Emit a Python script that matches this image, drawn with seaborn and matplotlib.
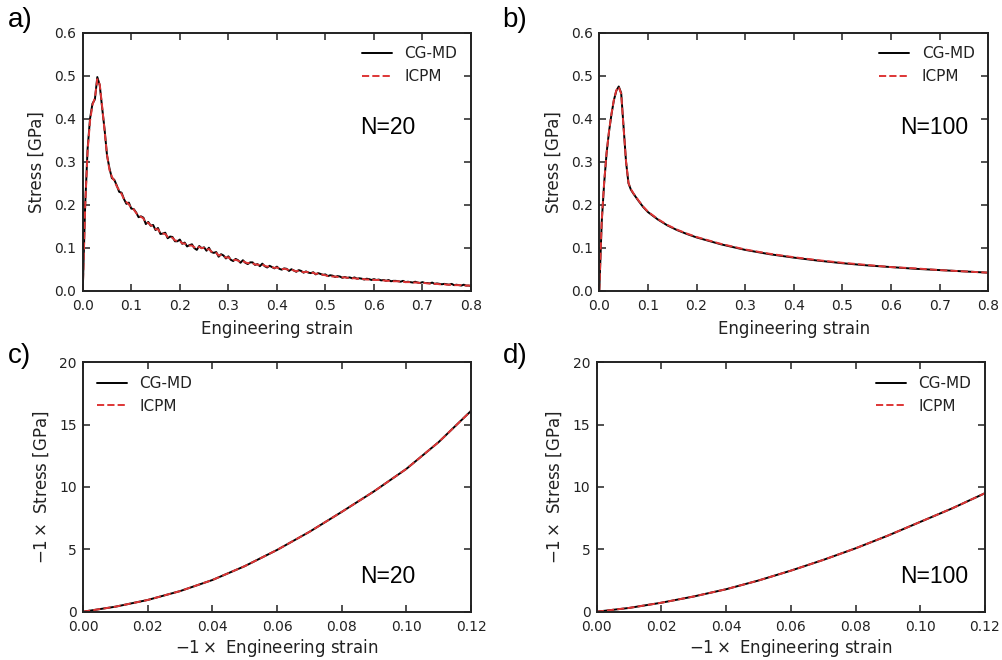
import numpy as np
import pandas as pd
import matplotlib
matplotlib.use("Agg")
import matplotlib.pyplot as plt
import seaborn as sns

# ---------------- data ----------------
# panel a (N=20, tension)
strain_a = np.linspace(0, 0.8, 161)
stress_a_md = [
    0.000, 0.200, 0.330, 0.400, 0.435, 0.445, 0.497, 0.478, 0.425, 0.375,
    0.315, 0.285, 0.262, 0.258, 0.245, 0.230, 0.228, 0.213, 0.202, 0.205,
    0.191, 0.190, 0.182, 0.171, 0.173, 0.170, 0.155, 0.160, 0.151, 0.153,
    0.141, 0.146, 0.132, 0.133, 0.135, 0.122, 0.126, 0.125, 0.115, 0.115,
    0.119, 0.109, 0.112, 0.103, 0.106, 0.108, 0.099, 0.095, 0.104, 0.099,
    0.101, 0.093, 0.100, 0.090, 0.088, 0.090, 0.079, 0.085, 0.082, 0.075,
    0.080, 0.072, 0.069, 0.074, 0.071, 0.065, 0.071, 0.065, 0.062, 0.066,
    0.066, 0.060, 0.062, 0.057, 0.063, 0.057, 0.054, 0.058, 0.055, 0.052,
    0.056, 0.051, 0.049, 0.052, 0.051, 0.046, 0.050, 0.047, 0.044, 0.048,
    0.046, 0.042, 0.045, 0.042, 0.041, 0.043, 0.038, 0.041, 0.039, 0.037,
    0.038, 0.034, 0.036, 0.035, 0.032, 0.034, 0.033, 0.030, 0.032, 0.030,
    0.031, 0.029, 0.031, 0.028, 0.029, 0.028, 0.026, 0.028, 0.027, 0.025,
    0.027, 0.025, 0.026, 0.024, 0.025, 0.023, 0.025, 0.022, 0.023, 0.023,
    0.022, 0.021, 0.023, 0.020, 0.021, 0.020, 0.019, 0.021, 0.019, 0.018,
    0.020, 0.018, 0.018, 0.017, 0.019, 0.016, 0.017, 0.016, 0.015, 0.016,
    0.015, 0.014, 0.016, 0.013, 0.014, 0.013, 0.012, 0.014, 0.012, 0.012,
    0.011,
]
stress_a_icpm = [
    0.000, 0.195, 0.325, 0.395, 0.432, 0.448, 0.492, 0.480, 0.428, 0.372,
    0.316, 0.281, 0.265, 0.256, 0.243, 0.234, 0.225, 0.213, 0.206, 0.201,
    0.192, 0.189, 0.181, 0.174, 0.172, 0.168, 0.158, 0.158, 0.152, 0.150,
    0.143, 0.143, 0.134, 0.133, 0.132, 0.125, 0.125, 0.123, 0.117, 0.116,
    0.116, 0.110, 0.110, 0.105, 0.105, 0.105, 0.101, 0.098, 0.102, 0.099,
    0.100, 0.095, 0.097, 0.091, 0.089, 0.088, 0.082, 0.083, 0.081, 0.077,
    0.078, 0.073, 0.071, 0.072, 0.070, 0.067, 0.069, 0.066, 0.064, 0.065,
    0.064, 0.061, 0.061, 0.059, 0.061, 0.058, 0.056, 0.057, 0.055, 0.053,
    0.054, 0.052, 0.050, 0.051, 0.050, 0.048, 0.049, 0.047, 0.045, 0.047,
    0.045, 0.043, 0.044, 0.043, 0.041, 0.042, 0.039, 0.040, 0.039, 0.037,
    0.036, 0.034, 0.034, 0.033, 0.033, 0.032, 0.032, 0.031, 0.031, 0.030,
    0.030, 0.029, 0.029, 0.028, 0.028, 0.027, 0.027, 0.026, 0.026, 0.026,
    0.025, 0.025, 0.025, 0.024, 0.024, 0.023, 0.023, 0.023, 0.022, 0.022,
    0.022, 0.021, 0.021, 0.020, 0.020, 0.020, 0.019, 0.019, 0.019, 0.018,
    0.018, 0.018, 0.017, 0.017, 0.016, 0.016, 0.016, 0.015, 0.015, 0.015,
    0.014, 0.014, 0.014, 0.013, 0.013, 0.013, 0.013, 0.012, 0.012, 0.012,
    0.012,
]

# panel b (N=100, tension)
strain_b = [0.0, 0.005, 0.01, 0.015, 0.02, 0.025, 0.03, 0.035, 0.04, 0.045,
            0.05, 0.055, 0.06, 0.065, 0.07, 0.08, 0.09, 0.10, 0.12, 0.14,
            0.16, 0.18, 0.20, 0.25, 0.30, 0.35, 0.40, 0.45, 0.50, 0.55,
            0.60, 0.65, 0.70, 0.75, 0.80]
stress_b_md = [0.000, 0.160, 0.250, 0.320, 0.370, 0.410, 0.443, 0.465, 0.475, 0.460,
               0.380, 0.300, 0.250, 0.235, 0.226, 0.210, 0.195, 0.183, 0.166, 0.152,
               0.141, 0.132, 0.124, 0.108, 0.095, 0.085, 0.077, 0.070, 0.064, 0.059,
               0.055, 0.051, 0.048, 0.045, 0.042]
stress_b_icpm = [0.000, 0.162, 0.252, 0.321, 0.371, 0.411, 0.444, 0.466, 0.474, 0.458,
                 0.378, 0.301, 0.251, 0.236, 0.227, 0.211, 0.196, 0.184, 0.167, 0.153,
                 0.142, 0.133, 0.125, 0.109, 0.096, 0.086, 0.078, 0.071, 0.065, 0.060,
                 0.055, 0.052, 0.048, 0.045, 0.042]

# panels c, d (compression)
strain_cd = [0.00, 0.01, 0.02, 0.03, 0.04, 0.05, 0.06, 0.07, 0.08, 0.09, 0.10, 0.11, 0.12]
stress_c = [0.0, 0.40, 0.94, 1.65, 2.54, 3.65, 4.95, 6.40, 8.00, 9.65, 11.45, 13.6, 16.1]
stress_d = [0.0, 0.30, 0.72, 1.22, 1.80, 2.50, 3.29, 4.15, 5.08, 6.10, 7.20, 8.30, 9.50]

series_names = ["CG-MD", "ICPM"]
panel_letters = ["a)", "b)", "c)", "d)"]
n_labels = ["N=20", "N=100", "N=20", "N=100"]

# ---------------- style ----------------
sns.set_style("ticks")
plt.rcParams["font.family"] = ["DejaVu Sans"]
plt.rcParams["mathtext.fontset"] = "dejavusans"
plt.rcParams["axes.linewidth"] = 1.4
plt.rcParams["axes.edgecolor"] = "#222222"
plt.rcParams["text.color"] = "#222222"
plt.rcParams["axes.labelcolor"] = "#222222"

black = "#000000"
red = "#de3535"

fig = plt.figure(figsize=(10.03, 6.60), dpi=100)
pos = [
    [0.0825, 0.5595, 0.3871, 0.3909],
    [0.5975, 0.5595, 0.3878, 0.3909],
    [0.0828, 0.0732, 0.3868, 0.3779],
    [0.5949, 0.0732, 0.3871, 0.3779],
]
axes = [fig.add_axes(p) for p in pos]

def draw(ax, x1, y1, x2, y2):
    d1 = pd.DataFrame({"x": x1, "y": y1})
    d2 = pd.DataFrame({"x": x2, "y": y2})
    sns.lineplot(data=d1, x="x", y="y", ax=ax, color=black, lw=1.4,
                 estimator=None, sort=False, label=series_names[0])
    sns.lineplot(data=d2, x="x", y="y", ax=ax, color=red, lw=1.4,
                 estimator=None, sort=False, label=series_names[1], linestyle="--")

draw(axes[0], strain_a, stress_a_md, strain_a, stress_a_icpm)
draw(axes[1], strain_b, stress_b_md, strain_b, stress_b_icpm)
draw(axes[2], strain_cd, stress_c, strain_cd, stress_c)
draw(axes[3], strain_cd, stress_d, strain_cd, stress_d)

for i, ax in enumerate(axes):
    if i < 2:
        ax.set_xlim(0, 0.8)
        ax.set_ylim(0, 0.6)
        ax.set_xticks(np.arange(0, 0.81, 0.1))
        ax.set_yticks(np.arange(0, 0.61, 0.1))
        ax.set_xticklabels([f"{v:.1f}" for v in np.arange(0, 0.81, 0.1)])
        ax.set_yticklabels([f"{v:.1f}" for v in np.arange(0, 0.61, 0.1)])
        ax.set_xlabel("Engineering strain", fontsize=12, labelpad=5)
        ax.set_ylabel("Stress [GPa]", fontsize=12, labelpad=6)
    else:
        ax.set_xlim(0, 0.12)
        ax.set_ylim(0, 20)
        ax.set_xticks(np.arange(0, 0.121, 0.02))
        ax.set_yticks([0, 5, 10, 15, 20])
        ax.set_xticklabels([f"{v:.2f}" for v in np.arange(0, 0.121, 0.02)])
        ax.set_xlabel(r"$-1\times$ Engineering strain", fontsize=12, labelpad=2)
        ax.set_ylabel(r"$-1\times$ Stress [GPa]", fontsize=12, labelpad=6)
    ax.tick_params(direction="in", top=True, right=True, length=5, width=1.1,
                   labelsize=10, colors="#222222")
    ax.tick_params(axis="x", pad=6)
    ax.tick_params(axis="y", pad=4.5)
    for sp in ax.spines.values():
        sp.set_visible(True)
    loc = "upper left" if i == 2 else "upper right"
    ax.legend(loc=loc, frameon=False, fontsize=11, handlelength=2.0)

n_pos = [(0.714, 0.634), (0.773, 0.634), (0.714, 0.143), (0.781, 0.143)]
for ax, lab, (px, py) in zip(axes, n_labels, n_pos):
    ax.text(px, py, lab, transform=ax.transAxes, fontsize=16.5, color="black",
            family="Liberation Sans", ha="left", va="center")

letter_pos = [(0.008, 0.99), (0.501, 0.99), (0.008, 0.48), (0.501, 0.48)]
for lab, (px, py) in zip(panel_letters, letter_pos):
    fig.text(px, py, lab, fontsize=20, color="black", family="Liberation Sans",
             ha="left", va="top")

fig.savefig("out.png", dpi=100)
